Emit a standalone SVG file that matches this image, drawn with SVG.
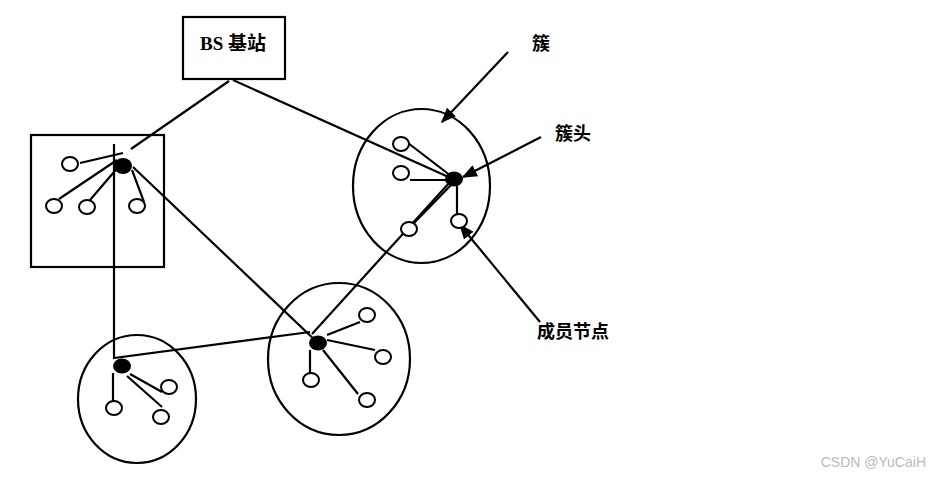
<svg xmlns="http://www.w3.org/2000/svg" width="940" height="477" viewBox="0 0 940 477">
<defs>
<marker id="ah" viewBox="0 0 10 10" refX="9" refY="5" markerWidth="7" markerHeight="7" markerUnits="strokeWidth" orient="auto">
<path d="M0,1 L10,5 L0,9 Z" fill="#000"/>
</marker>
<style>
.ln{stroke:#000;stroke-width:2.2;fill:none}
.bd{stroke:#000;stroke-width:2.2;fill:none}
.m{stroke:#000;stroke-width:2;fill:#fff}
.h{fill:#000}
.lbl{font-family:"Noto Sans CJK SC","Liberation Serif",sans-serif;font-weight:bold;font-size:18px;fill:#000}
</style>
</defs>
<rect width="940" height="477" fill="#fff"/>
<g id="bs">
<rect x="183" y="17" width="102" height="62" class="bd"/>
<text x="233" y="50" text-anchor="middle" style="font-family:'Liberation Serif','Noto Sans CJK SC',serif;font-weight:bold;font-size:19px">BS 基站</text>
</g>
<g id="connectors">
<line x1="229" y1="81" x2="131" y2="149" class="ln"/>
<line x1="233" y1="80" x2="453" y2="179" class="ln"/>
<polyline points="114,144 114,358 310,332" class="ln"/>
<line x1="133" y1="167" x2="318" y2="343" class="ln"/>
<line x1="312" y1="334" x2="450" y2="182" class="ln"/>
<line x1="508" y1="52" x2="442" y2="122" class="ln" marker-end="url(#ah)"/>
<line x1="541" y1="137" x2="463" y2="177" class="ln" marker-end="url(#ah)"/>
<line x1="540" y1="322" x2="460" y2="225" class="ln" marker-end="url(#ah)"/>
</g>
<g id="cluster1">
<rect x="31" y="135" width="133" height="132" class="bd"/>
<line x1="80" y1="163" x2="123" y2="153" class="ln"/>
<line x1="59" y1="199" x2="117" y2="160" class="ln"/>
<line x1="90" y1="200" x2="120" y2="165" class="ln"/>
<line x1="132" y1="170" x2="144" y2="202" class="ln"/>
<ellipse cx="70" cy="164" rx="8" ry="7" class="m"/>
<ellipse cx="54" cy="206" rx="8" ry="7" class="m"/>
<ellipse cx="87" cy="207" rx="8" ry="7" class="m"/>
<ellipse cx="137" cy="206" rx="8" ry="7" class="m"/>
<ellipse cx="123" cy="166" rx="9" ry="8" class="h"/>
</g>
<g id="cluster2">
<ellipse cx="421.5" cy="186" rx="68.5" ry="77" class="bd"/>
<line x1="408" y1="143" x2="451" y2="176" class="ln"/>
<line x1="410" y1="180" x2="448" y2="180" class="ln"/>
<line x1="414" y1="223" x2="452" y2="184" class="ln"/>
<line x1="457" y1="183" x2="457" y2="215" class="ln"/>
<ellipse cx="401" cy="144" rx="8" ry="7" class="m"/>
<ellipse cx="401" cy="173" rx="8" ry="7" class="m"/>
<ellipse cx="409" cy="229" rx="8" ry="7" class="m"/>
<ellipse cx="459" cy="221" rx="8" ry="7" class="m"/>
<ellipse cx="454" cy="179" rx="9" ry="7.5" class="h"/>
</g>
<g id="cluster3">
<ellipse cx="339" cy="359" rx="71" ry="76" class="bd"/>
<line x1="327" y1="335" x2="360" y2="322" class="ln"/>
<line x1="327" y1="340" x2="375" y2="350" class="ln"/>
<line x1="323" y1="350" x2="358" y2="394" class="ln"/>
<line x1="310" y1="350" x2="310" y2="378" class="ln"/>
<ellipse cx="367" cy="315" rx="8" ry="7" class="m"/>
<ellipse cx="383" cy="357" rx="8" ry="7" class="m"/>
<ellipse cx="367" cy="400" rx="8" ry="7" class="m"/>
<ellipse cx="311" cy="380" rx="8" ry="7" class="m"/>
<ellipse cx="318" cy="343" rx="9" ry="7.5" class="h"/>
</g>
<g id="cluster4">
<ellipse cx="137" cy="399" rx="59" ry="64" class="bd"/>
<line x1="113" y1="373" x2="113" y2="402" class="ln"/>
<line x1="130" y1="374" x2="162" y2="392" class="ln"/>
<line x1="127" y1="376" x2="162" y2="407" class="ln"/>
<ellipse cx="114" cy="408" rx="8" ry="7" class="m"/>
<ellipse cx="169" cy="387" rx="8" ry="7" class="m"/>
<ellipse cx="161" cy="417" rx="8" ry="7" class="m"/>
<ellipse cx="122" cy="366" rx="9" ry="7.5" class="h"/>
</g>
<g id="labels">
<text x="532" y="50" class="lbl">簇</text>
<text x="555" y="140" class="lbl">簇头</text>
<text x="537" y="338" class="lbl">成员节点</text>
</g>
<text x="926" y="467" text-anchor="end" style="font-family:'Liberation Sans',sans-serif;font-size:14px;fill:#bbb">CSDN @YuCaiH</text>
</svg>
